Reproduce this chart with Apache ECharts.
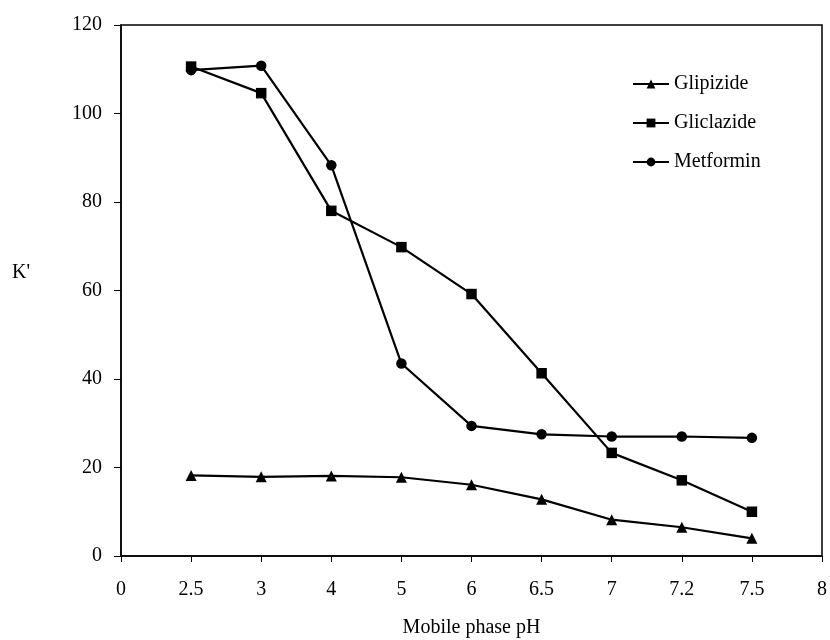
<!DOCTYPE html>
<html><head><meta charset="utf-8">
<script src="https://cdn.jsdelivr.net/npm/echarts@6/dist/echarts.min.js"></script>
<style>html,body{margin:0;padding:0;background:#fff}#c{width:830px;height:640px}</style>
</head><body><div id="c"></div>
<script>
const categories = ['0','2.5','3','4','5','6','6.5','7','7.2','7.5','8'];
const glipizide  = [null, 18.2, 17.9, 18.1, 17.8, 16.1, 12.8, 8.2, 6.5, 4.0, null];
const gliclazide = [null, 110.6, 104.6, 78.0, 69.8, 59.2, 41.3, 23.3, 17.1, 10.0, null];
const metformin  = [null, 109.8, 110.8, 88.3, 43.5, 29.4, 27.5, 27.0, 27.0, 26.7, null];
const yTicks = [0, 20, 40, 60, 80, 100, 120];

const font = 'Liberation Serif, Times New Roman, serif';
const chart = echarts.init(document.getElementById('c'));
function ser(name, data, sym, size) {
  return {name, type:'line', data, symbol:sym, symbolSize:size, showSymbol:true,
    lineStyle:{color:'#000', width:2.2}, itemStyle:{color:'#000'}, connectNulls:false, animation:false};
}
chart.setOption({
  animation:false,
  textStyle:{fontFamily:font, color:'#000'},
  grid:{left:121, right:8, top:25, bottom:84, show:true, borderColor:'#000', borderWidth:1.5,
    containLabel:false, outerBoundsMode:'none'},
  legend:{orient:'vertical', left:627, top:69, itemWidth:36, itemHeight:11, itemGap:19,
    textStyle:{fontFamily:font, fontSize:20, color:'#000'},
    data:['Glipizide','Gliclazide','Metformin']},
  xAxis:{type:'category', data:categories, boundaryGap:false,
    name:'Mobile phase pH', nameLocation:'middle', nameGap:62,
    nameTextStyle:{fontFamily:font, fontSize:20, color:'#000'},
    axisLine:{lineStyle:{color:'#000', width:1.5}},
    axisTick:{show:true, alignWithLabel:true, length:6, lineStyle:{color:'#000'}},
    axisLabel:{fontFamily:font, fontSize:20, color:'#000', margin:24, interval:0},
    splitLine:{show:false}},
  yAxis:{type:'value', min:yTicks[0], max:yTicks[yTicks.length-1], interval:20,
    name:"K'", nameLocation:'middle', nameRotate:0, nameGap:91,
    nameTextStyle:{fontFamily:font, fontSize:20, color:'#000', verticalAlign:'bottom', padding:[0,0,8,0]},
    axisLine:{show:true, lineStyle:{color:'#000', width:1.5}},
    axisTick:{show:true, length:7, lineStyle:{color:'#000'}},
    axisLabel:{fontFamily:font, fontSize:20, color:'#000', margin:19},
    splitLine:{show:false}},
  series:[
    ser('Glipizide', glipizide, 'triangle', 11),
    ser('Gliclazide', gliclazide, 'rect', 10.5),
    ser('Metformin', metformin, 'circle', 10.5)
  ]
});
</script></body></html>
